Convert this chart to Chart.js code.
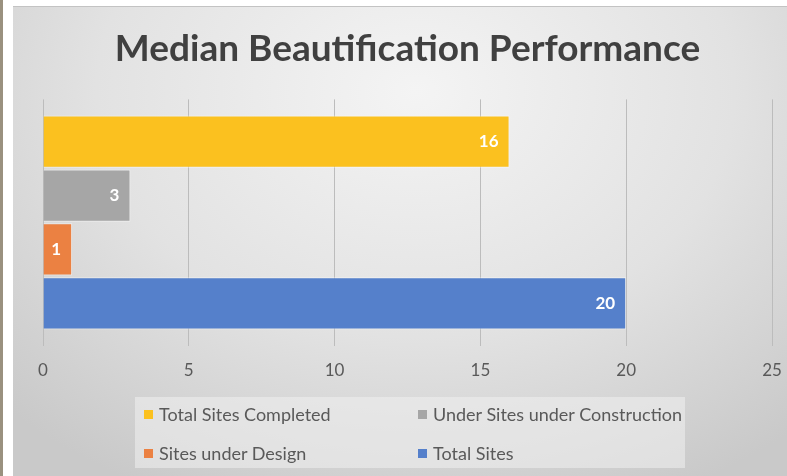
<!DOCTYPE html>
<html>
<head>
<meta charset="utf-8">
<script src="https://cdn.jsdelivr.net/npm/chart.js@4"></script>
<style>
  body { margin: 0; background: #ffffff; width: 787px; height: 476px; overflow: hidden; position: relative; }
  #strip { position: absolute; left: 0; top: 0; width: 3px; height: 476px; background: #9a917f; }
  #frame {
    position: absolute; left: 13px; top: 6px; width: 774px; height: 470px;
    border-top: 1px solid #c3c3c3;
    background: radial-gradient(ellipse 75% 95% at 52% 18%, #f4f4f4 0%, #e2e2e2 55%, #c9c9c9 100%);
  }
  #chart-wrap { position: absolute; left: 0; top: 0; width: 774px; height: 469px; }
  #legend {
    position: absolute; left: 122px; top: 390px; width: 550px; height: 71px;
    background: rgba(240, 240, 240, 0.55);
    font-family: Lato, "Open Sans", sans-serif; font-size: 18px; color: #595959;
  }
  .item { position: absolute; display: flex; align-items: center; white-space: nowrap; }
  .box { width: 9px; height: 9px; margin-right: 6px; }
</style>
</head>
<body>
<div id="strip"></div>
<div id="frame">
  <div id="chart-wrap"><canvas id="bar-chart"></canvas></div>
  <div id="legend"></div>
</div>
<script>
const chartTitle = 'Median Beautification Performance';
const seriesNames = ['Total Sites Completed', 'Under Sites under Construction', 'Sites under Design', 'Total Sites'];
const seriesValues = [16, 3, 1, 20];
const seriesColors = ['#fbc11f', '#a6a6a6', '#eb8142', '#5580cb'];
const xTicks = [0, 5, 10, 15, 20, 25];

// white bold value inside the end of each bar
const valueLabels = {
    id: 'valueLabels',
    afterDatasetsDraw(chart) {
        const ctx = chart.ctx;
        ctx.save();
        ctx.font = 'bold 17px Lato, "Open Sans", sans-serif';
        ctx.fillStyle = '#ffffff';
        ctx.textAlign = 'right';
        ctx.textBaseline = 'middle';
        chart.data.datasets.forEach((ds, i) => {
            const bar = chart.getDatasetMeta(i).data[0];
            ctx.fillText(String(ds.data[0]), bar.x - 11, bar.y);
        });
        ctx.restore();
    }
};

const ctx = document.getElementById('bar-chart').getContext('2d');
new Chart(ctx, {
    type: 'bar',
    data: {
        labels: [''],
        datasets: seriesNames.map((name, i) => ({
            label: name,
            data: [seriesValues[i]],
            backgroundColor: seriesColors[i],
            borderColor: 'rgba(255,255,255,0.5)',
            borderWidth: 1,
            categoryPercentage: 0.875,
            barPercentage: 0.97
        }))
    },
    options: {
        indexAxis: 'y',
        responsive: true,
        maintainAspectRatio: false,
        animation: false,
        layout: { padding: { left: 30, right: 15, top: 0, bottom: 80 } },
        plugins: {
            legend: { display: false },
            tooltip: { enabled: false },
            title: {
                display: true,
                text: chartTitle,
                color: '#404040',
                font: { family: 'Lato, "Open Sans", sans-serif', size: 37, weight: 'bold' },
                padding: { top: 20, bottom: 28 }
            }
        },
        scales: {
            x: {
                min: 0,
                max: 25,
                afterBuildTicks(axis) { axis.ticks = xTicks.map(v => ({ value: v })); },
                afterFit(axis) { axis.paddingLeft = 0; axis.paddingRight = 0; },
                grid: { color: '#bcbcbc', lineWidth: 1, drawTicks: false },
                border: { display: false },
                ticks: {
                    color: '#595959',
                    padding: 15,
                    font: { family: 'Lato, "Open Sans", sans-serif', size: 17 }
                }
            },
            y: { display: false }
        }
    },
    plugins: [valueLabels]
});

// legend in two columns, same order as the reference
const legend = document.getElementById('legend');
const spots = [[22, 17], [296, 17], [22, 56], [296, 56]];
seriesNames.forEach((name, i) => {
    const el = document.createElement('div');
    el.className = 'item';
    el.style.left = spots[i][0] - 13 + 'px';
    el.style.top = spots[i][1] - 11 + 'px';
    el.innerHTML = '<span class="box" style="background:' + seriesColors[i] + '"></span><span>' + name + '</span>';
    legend.appendChild(el);
});
</script>
</body>
</html>
